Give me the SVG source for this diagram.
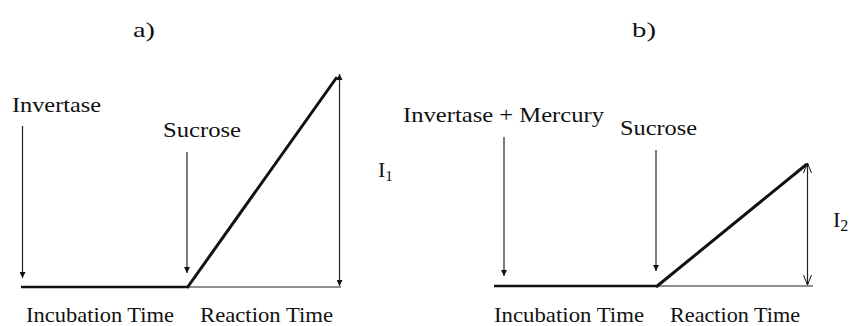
<svg xmlns="http://www.w3.org/2000/svg" width="851" height="326" viewBox="0 0 851 326">
<defs>
<marker id="fill" viewBox="0 0 10 10" refX="10" refY="5" markerWidth="6" markerHeight="6" markerUnits="userSpaceOnUse" orient="auto-start-reverse">
<path d="M0,0 L10,5 L0,10 z" fill="#111"/>
</marker>
<marker id="open" viewBox="0 0 10 10" refX="10" refY="5" markerWidth="10" markerHeight="10" markerUnits="userSpaceOnUse" orient="auto-start-reverse">
<path d="M0,1 L10,5 L0,9" fill="none" stroke="#111" stroke-width="1"/>
</marker>
</defs>
<style>
text{font-family:"Liberation Serif","Times New Roman",serif;fill:#111;font-size:22px}
.thin{stroke:#222;stroke-width:1.2;fill:none}
.thick{stroke:#111;stroke-width:3;fill:none}
.base{stroke:#111;stroke-width:2.5;fill:none}
</style>
<rect width="851" height="326" fill="#fff"/>
<g id="panel-a">
<text id="title-a" x="133" y="37" font-size="27" textLength="22" lengthAdjust="spacingAndGlyphs">a)</text>
<g id="label-invertase"><text x="12" y="112" textLength="89" lengthAdjust="spacingAndGlyphs">Invertase</text></g>
<g id="label-sucrose-a"><text x="163" y="137" textLength="78" lengthAdjust="spacingAndGlyphs">Sucrose</text></g>
<g id="label-i1"><text x="378" y="177" font-size="23">I<tspan font-size="15" dy="4">1</tspan></text></g>
<g id="label-incub-a"><text x="26" y="322" textLength="148" lengthAdjust="spacingAndGlyphs">Incubation Time</text></g>
<g id="label-react-a"><text x="200" y="322" textLength="133" lengthAdjust="spacingAndGlyphs">Reaction Time</text></g>
</g>
<g id="panel-b">
<text id="title-b" x="632" y="37" font-size="27" textLength="24" lengthAdjust="spacingAndGlyphs">b)</text>
<g id="label-invmerc"><text x="403" y="122" textLength="201" lengthAdjust="spacingAndGlyphs">Invertase + Mercury</text></g>
<g id="label-sucrose-b"><text x="620" y="135" textLength="77" lengthAdjust="spacingAndGlyphs">Sucrose</text></g>
<g id="label-i2"><text x="833" y="227" font-size="26">I<tspan font-size="16" dy="4">2</tspan></text></g>
<g id="label-incub-b"><text x="494" y="322" textLength="150" lengthAdjust="spacingAndGlyphs">Incubation Time</text></g>
<g id="label-react-b"><text x="670" y="322" textLength="130" lengthAdjust="spacingAndGlyphs">Reaction Time</text></g>
</g>
<g id="connectors">
<line class="thin" x1="22.5" y1="126" x2="22.5" y2="278" marker-end="url(#fill)"/>
<line class="thin" x1="187" y1="152" x2="187" y2="273" marker-end="url(#fill)"/>
<line class="base" x1="21" y1="287" x2="188" y2="287"/>
<line class="thin" x1="188" y1="287" x2="341" y2="287"/>
<line class="thick" x1="187" y1="288" x2="337" y2="77"/>
<line class="thin" x1="339.5" y1="74" x2="339.5" y2="286" marker-start="url(#fill)" marker-end="url(#fill)"/>
<line class="thin" x1="504" y1="137" x2="504" y2="276" marker-end="url(#fill)"/>
<line class="thin" x1="656" y1="150" x2="656" y2="271" marker-end="url(#fill)"/>
<line class="base" x1="494" y1="286" x2="656" y2="286"/>
<line class="thin" x1="656" y1="286" x2="813" y2="286"/>
<line class="thick" x1="656" y1="287" x2="807" y2="164"/>
<line class="thin" x1="807.5" y1="163" x2="807.5" y2="285" marker-start="url(#open)" marker-end="url(#open)"/>
</g>
</svg>
